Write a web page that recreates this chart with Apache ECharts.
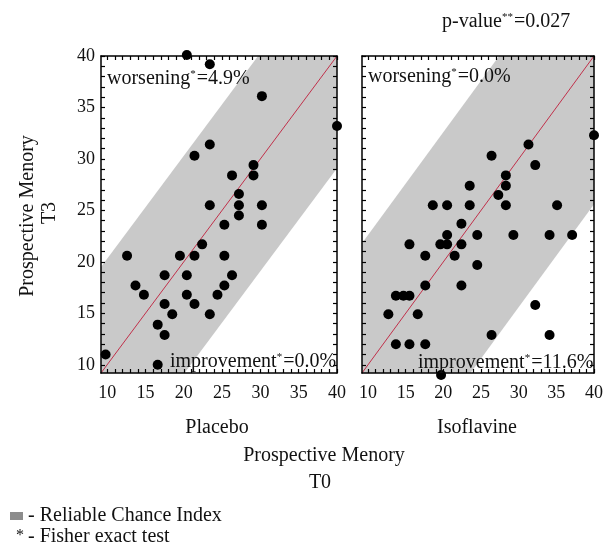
<!DOCTYPE html>
<html><head><meta charset="utf-8">
<script src="https://cdn.jsdelivr.net/npm/echarts@6/dist/echarts.min.js"></script>
<style>html,body{margin:0;padding:0;background:#fff}#c{width:606px;height:545px}</style>
</head><body><div id="c"></div>
<script>
// ---- data ----
const panelNames = ['Placebo', 'Isoflavine'];
const placeboT0 = [20.4,23.4,30.2,40,23.4,21.4,29.1,26.3,29.1,27.2,27.2,23.4,30.2,27.2,25.3,30.2,22.4,12.6,19.5,21.4,25.3,17.5,20.4,26.3,13.7,25.3,14.8,20.4,24.4,17.5,21.4,18.5,23.4,16.6,17.5,9.8,16.6];
const placeboT3 = [40.1,39.2,36.1,33.2,31.4,30.3,29.4,28.4,28.4,26.6,25.5,25.5,25.5,24.5,23.6,23.6,21.7,20.6,20.6,20.6,20.6,18.7,18.7,18.7,17.7,17.7,16.8,16.8,16.8,15.9,15.9,14.9,14.9,13.9,12.9,11.0,10.0];
const isoT0 = [40,31.3,26.4,32.2,28.3,23.5,28.3,27.3,18.6,20.5,23.5,28.3,35.1,22.4,20.5,24.5,29.3,34.1,37.1,15.5,19.6,20.5,22.4,17.6,21.5,24.5,17.6,22.4,13.7,14.7,15.5,12.7,16.6,32.2,26.4,34.1,13.7,15.5,17.6,19.7];
const isoT3 = [32.3,31.4,30.3,29.4,28.4,27.4,27.4,26.5,25.5,25.5,25.5,25.5,25.5,23.7,22.6,22.6,22.6,22.6,22.6,21.7,21.7,21.7,21.7,20.6,20.6,19.7,17.7,17.7,16.7,16.7,16.7,14.9,14.9,15.8,12.9,12.9,12.0,12.0,12.0,9.0];
const rciUpper = [10.3, 12.6];   // reliable change band above identity line
const rciLower = [10.9, 14.4];   // reliable change band below identity line
const worsening = ['4.9%', '0.0%'];
const improvement = ['0.0%', '11.6%'];
const pValue = '0.027';
const axisRange = [9.2, 40];
const tickLabels = [10, 15, 20, 25, 30, 35, 40];
const minorTicks = [10,11,12,13,14,15,16,17,18,19,20,21,22,23,24,25,26,27,28,29,30,31,32,33,34,35,36,37,38,39,40];

// ---- chart ----
const FONT = 'Liberation Serif';
const TXT = '#111';
const chart = echarts.init(document.getElementById('c'), null, {renderer: 'canvas'});

const grids = [
  {left: 101, top: 56, width: 236, height: 317},
  {left: 362, top: 56, width: 237, height: 317}
];
const pts = [placeboT0.map((v, i) => [v, placeboT3[i]]), isoT0.map((v, i) => [v, isoT3[i]])];

const xAxes = [], yAxes = [], series = [];
grids.forEach((g, i) => {
  const base = () => ({
    gridIndex: i, type: 'value', min: axisRange[0], max: axisRange[1], z: 10,
    splitLine: {show: false},
    axisLine: {show: true, onZero: false, lineStyle: {color: '#000', width: 1.5}},
    axisTick: {show: true, inside: true, length: 4, customValues: minorTicks, lineStyle: {color: '#000', width: 1.2}}
  });
  xAxes.push(Object.assign(base(), {position: 'bottom',
    axisLabel: {show: true, customValues: tickLabels, margin: 11, fontSize: 18, fontFamily: FONT, color: TXT}}));
  xAxes.push(Object.assign(base(), {position: 'top', axisLabel: {show: false}}));
  yAxes.push(Object.assign(base(), {position: 'left',
    axisLabel: {show: i === 0, customValues: tickLabels, margin: 6, fontSize: 18, fontFamily: FONT, color: TXT}}));
  yAxes.push(Object.assign(base(), {position: 'right', axisLabel: {show: false}}));

  const xi = i * 2, yi = i * 2;
  series.push({
    type: 'custom', xAxisIndex: xi, yAxisIndex: yi, z: 1, silent: true,
    data: [[axisRange[0], axisRange[0]]],
    renderItem: (params, api) => {
      const lo = axisRange[0], hi = axisRange[1], u = rciUpper[i], l = rciLower[i];
      const poly = [[lo, lo], [lo, lo + u], [hi - u, hi], [hi, hi], [hi, hi - l], [lo + l, lo]].map(p => api.coord(p));
      return {type: 'polygon', shape: {points: poly}, style: {fill: '#c9c9c9'}};
    }
  });
  series.push({
    type: 'line', xAxisIndex: xi, yAxisIndex: yi, z: 2, silent: true, symbol: 'none',
    data: [[axisRange[0], axisRange[0]], [axisRange[1], axisRange[1]]],
    lineStyle: {color: '#c0304a', width: 1}
  });
  series.push({
    type: 'scatter', xAxisIndex: xi, yAxisIndex: yi, z: 12, clip: false,
    symbol: 'circle', symbolSize: 10, itemStyle: {color: '#000', opacity: 1},
    data: pts[i]
  });
});

const txt = (x, y, text, opt) => Object.assign({
  type: 'text', x: x, y: y, z: 100,
  style: Object.assign({text: text, fontFamily: FONT, fontSize: 20, fill: TXT,
    align: 'center', verticalAlign: 'middle',
    rich: {s: {fontSize: 11, fontFamily: FONT, fill: TXT, verticalAlign: 'top', padding: [0, 1, 0, 0]}}}, opt || {})
});

const graphic = [
  txt(442, 22, 'p-value{s|**}=' + pValue, {align: 'left'}),
  txt(107, 79, 'worsening{s|*}=' + worsening[0], {align: 'left'}),
  txt(368, 77, 'worsening{s|*}=' + worsening[1], {align: 'left'}),
  txt(170, 362, 'improvement{s|*}=' + improvement[0], {align: 'left'}),
  txt(418, 363, 'improvement{s|*}=' + improvement[1], {align: 'left'}),
  txt(217, 428, panelNames[0]),
  txt(477, 428, panelNames[1]),
  txt(324, 456, 'Prospective Menory'),
  txt(320, 483, 'T0'),
  Object.assign(txt(28, 216, 'Prospective Menory'), {rotation: Math.PI / 2}),
  Object.assign(txt(50, 213, 'T3'), {rotation: Math.PI / 2}),
  {type: 'rect', x: 10, y: 512, z: 100, shape: {width: 13, height: 8}, style: {fill: '#8c8c8c'}},
  txt(28, 516, '- Reliable Chance Index', {align: 'left'}),
  txt(20, 536, '*', {fontSize: 16}),
  txt(28, 537, '- Fisher exact test', {align: 'left'})
];

chart.setOption({
  animation: false,
  backgroundColor: '#fff',
  grid: grids,
  xAxis: xAxes,
  yAxis: yAxes,
  series: series,
  graphic: graphic
});
</script></body></html>
